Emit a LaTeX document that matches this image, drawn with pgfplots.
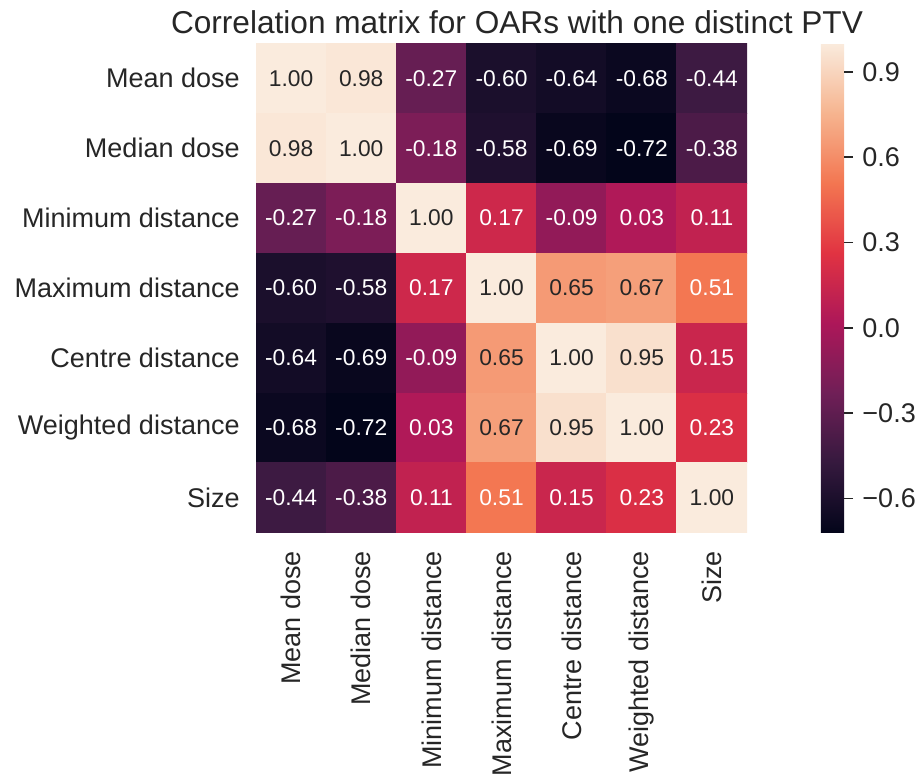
\documentclass[border=0pt]{standalone}
\usepackage{pgfplots}
\pgfplotsset{compat=1.18}
\usepackage{fontspec}
\setmainfont{Liberation Sans}
\definecolor{txt}{HTML}{262626}
\pgfplotsset{colormap={rocket}{rgb255(0)=(3,5,26) rgb255(1)=(53,25,62) rgb255(2)=(112,31,87) rgb255(3)=(173,23,89) rgb255(4)=(225,51,66) rgb255(5)=(243,118,81) rgb255(6)=(246,180,143) rgb255(7)=(250,235,221)}}
\begin{document}
\begin{tikzpicture}[x=1pt,y=1pt]
\path[use as bounding box] (0,0) rectangle (459.5,-390.5);
\begin{axis}[
  at={(128pt,-21.65pt)}, anchor=north west,
  width=245.5pt, height=244.75pt, scale only axis,
  xmin=-0.5, xmax=6.5, ymin=-0.5, ymax=6.5, y dir=reverse,
  axis line style={draw=none}, major tick length=0pt,
  xtick={0,...,6}, ytick={0,...,6},
  xticklabels={Mean dose, Median dose, Minimum distance, Maximum distance, Centre distance, Weighted distance, Size},
  yticklabels={Mean dose, Median dose, Minimum distance, Maximum distance, Centre distance, Weighted distance, Size},
  xticklabel style={rotate=90, anchor=east, inner sep=0pt, font=\fontsize{13.5}{16}\selectfont, text=txt},
  yticklabel style={anchor=east, inner sep=0pt, font=\fontsize{13.5}{16}\selectfont, text=txt},
  xticklabel shift=9pt, yticklabel shift=8pt,
  colormap name=rocket,
  point meta min=-0.72, point meta max=1.0,
  colorbar,
  colorbar style={
    at={(parent axis.north east)}, anchor=north west, xshift=28.35pt,
    width=11.65pt, height=244.75pt, scale only axis,
    axis line style={draw=none},
    ytick={-0.6,-0.3,0,0.3,0.6,0.9},
    yticklabels={−0.6,−0.3,0.0,0.3,0.6,0.9},
    ytick pos=right, yticklabel pos=right,
    major tick length=4.5pt, tick align=outside,
    major tick style={draw=txt, line width=0.8pt},
    yticklabel style={anchor=west, inner sep=0pt, font=\fontsize{13.5}{16}\selectfont, text=txt},
    yticklabel shift=4.5pt,
  },
]
\addplot[matrix plot*, mesh/cols=7, point meta=explicit] table[x=x, y=y, meta=c] {
x y c
0 0 1.00
1 0 0.98
2 0 -0.27
3 0 -0.60
4 0 -0.64
5 0 -0.68
6 0 -0.44
0 1 0.98
1 1 1.00
2 1 -0.18
3 1 -0.58
4 1 -0.69
5 1 -0.72
6 1 -0.38
0 2 -0.27
1 2 -0.18
2 2 1.00
3 2 0.17
4 2 -0.09
5 2 0.03
6 2 0.11
0 3 -0.60
1 3 -0.58
2 3 0.17
3 3 1.00
4 3 0.65
5 3 0.67
6 3 0.51
0 4 -0.64
1 4 -0.69
2 4 -0.09
3 4 0.65
4 4 1.00
5 4 0.95
6 4 0.15
0 5 -0.68
1 5 -0.72
2 5 0.03
3 5 0.67
4 5 0.95
5 5 1.00
6 5 0.23
0 6 -0.44
1 6 -0.38
2 6 0.11
3 6 0.51
4 6 0.15
5 6 0.23
6 6 1.00
};
% white annotations
\addplot[draw=none, nodes near coords, point meta=explicit symbolic,
  nodes near coords align={center},
  every node near coord/.style={anchor=center, inner sep=0pt, text=white, font=\fontsize{11.4}{13}\selectfont}]
  table[x=x, y=y, meta=l] {
x y l
2 0 -0.27
3 0 -0.60
4 0 -0.64
5 0 -0.68
6 0 -0.44
2 1 -0.18
3 1 -0.58
4 1 -0.69
5 1 -0.72
6 1 -0.38
0 2 -0.27
1 2 -0.18
3 2 0.17
4 2 -0.09
5 2 0.03
6 2 0.11
0 3 -0.60
1 3 -0.58
2 3 0.17
6 3 0.51
0 4 -0.64
1 4 -0.69
2 4 -0.09
6 4 0.15
0 5 -0.68
1 5 -0.72
2 5 0.03
6 5 0.23
0 6 -0.44
1 6 -0.38
2 6 0.11
3 6 0.51
4 6 0.15
5 6 0.23
};
% dark annotations
\addplot[draw=none, nodes near coords, point meta=explicit symbolic,
  nodes near coords align={center},
  every node near coord/.style={anchor=center, inner sep=0pt, text=txt, font=\fontsize{11.4}{13}\selectfont}]
  table[x=x, y=y, meta=l] {
x y l
0 0 1.00
1 0 0.98
0 1 0.98
1 1 1.00
2 2 1.00
3 3 1.00
4 3 0.65
5 3 0.67
3 4 0.65
4 4 1.00
5 4 0.95
3 5 0.67
4 5 0.95
5 5 1.00
6 6 1.00
};
\end{axis}
\node[anchor=base, inner sep=0pt, text=txt, font=\fontsize{15.8}{19}\selectfont] at (258.5,-16.65) {Correlation matrix for OARs with one distinct PTV};
\end{tikzpicture}
\end{document}
